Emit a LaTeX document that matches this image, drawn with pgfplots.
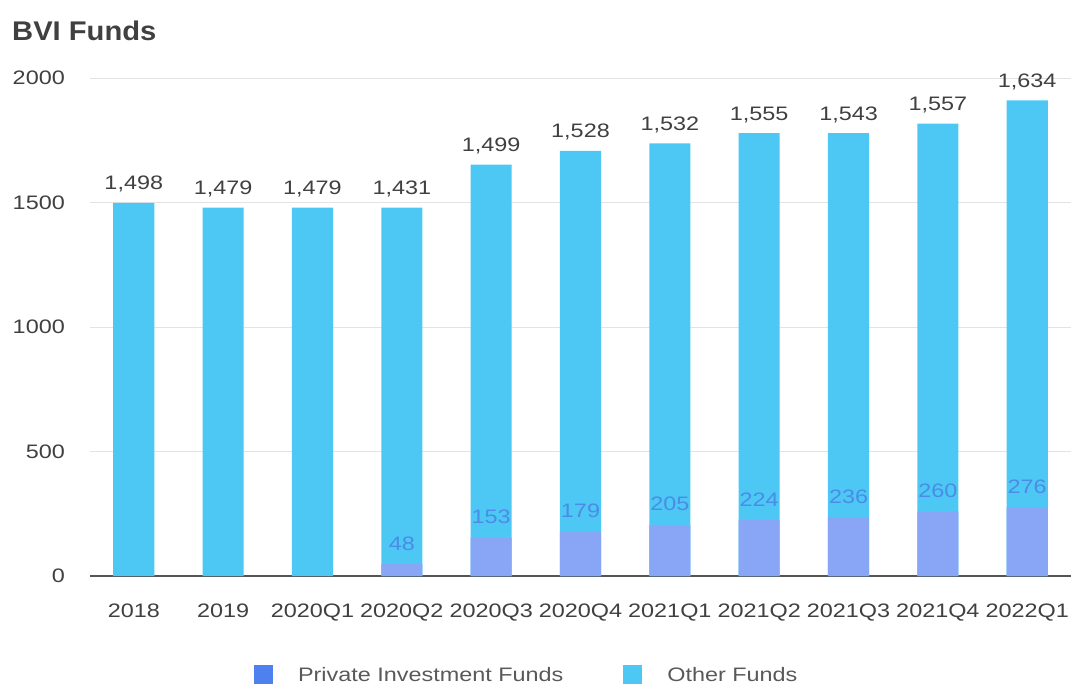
\documentclass[border=0pt]{standalone}
\usepackage{pgfplots}
\usepackage{pgfplotstable}
\pgfplotsset{compat=1.18}
\usepackage{fontspec}
\setmainfont{Liberation Sans}[FakeStretch=1.2]
\newfontfamily\titlefont{Liberation Sans}[FakeStretch=1.08]
\definecolor{otherc}{HTML}{4DC8F5}
\definecolor{privc}{HTML}{89A5F6}
\definecolor{privleg}{HTML}{4F80F0}
\definecolor{privtxt}{HTML}{4A8CE6}
\definecolor{txt}{HTML}{404040}
\definecolor{legtxt}{HTML}{595959}
\definecolor{gridc}{HTML}{E3E3E3}
\definecolor{axc}{HTML}{555555}

\pgfplotstableread{
x priv other
0 0 1498
1 0 1479
2 0 1479
3 48 1431
4 153 1499
5 179 1528
6 205 1532
7 224 1555
8 236 1543
9 260 1557
10 276 1634
}\fundsdata

\pgfplotstableread{
x priv
3 48
4 153
5 179
6 205
7 224
8 236
9 260
10 276
}\privdata

\begin{document}
\begin{tikzpicture}
\begin{axis}[
  scale only axis,
  width=981pt, height=498pt,
  xmin=-0.49, xmax=10.49,
  ymin=0, ymax=2000,
  ybar,
  bar width=0.46,
  clip=false,
  /pgf/number format/assume math mode=true,
  axis x line*=bottom,
  axis y line*=left,
  y axis line style={draw=none},
  x axis line style={-, draw=axc, line width=1.4pt},
  major tick length=0pt,
  xtick={0,...,10},
  xticklabels={2018,2019,2020Q1,2020Q2,2020Q3,2020Q4,2021Q1,2021Q2,2021Q3,2021Q4,2022Q1},
  ytick={0,500,1000,1500,2000},
  yticklabels={0,500,1000,1500,2000},
  ymajorgrids,
  grid style={draw=gridc, line width=1pt},
  xticklabel style={font=\fontsize{19.5}{22}\selectfont, text=txt, anchor=north, inner sep=0pt, yshift=-28pt},
  yticklabel style={font=\fontsize{19.5}{22}\selectfont, text=txt, anchor=east, inner sep=0pt, xshift=-25pt},
  legend image code/.code={\fill[#1, draw=none] (0pt,-9pt) rectangle (19pt,10pt);},
  legend columns=2,
  legend style={draw=none, fill=none, inner sep=0pt, outer sep=0pt,
    at={(0.1672,-0.198)}, anchor=west,
    nodes={inner sep=0pt, text=legtxt, font=\fontsize{19.5}{22}\selectfont},
    /tikz/every odd column/.append style={column sep=25pt},
    /tikz/every even column/.append style={column sep=60pt}},
]
\addplot[forget plot, fill=otherc, draw=none, bar shift=0pt,
  point meta=explicit,
  nodes near coords={\pgfmathprintnumber[fixed,precision=0,1000 sep={,}]{\pgfplotspointmeta}},
  every node near coord/.style={font=\fontsize{19.5}{22}\selectfont, text=txt, anchor=base, inner sep=0pt, yshift=13pt}]
  table[x=x, y expr=\thisrow{priv}+\thisrow{other}, meta=other]{\fundsdata};
\addplot[forget plot, fill=privc, draw=none, bar shift=0pt,
  point meta=explicit,
  nodes near coords={\pgfmathprintnumber[fixed,precision=0]{\pgfplotspointmeta}},
  every node near coord/.style={font=\fontsize{19.5}{22}\selectfont, text=privtxt, anchor=base, inner sep=0pt, yshift=14pt}]
  table[x=x, y=priv, meta=priv]{\privdata};
\addlegendimage{fill=privleg, draw=none}
\addlegendentry{Private Investment Funds}
\addlegendimage{fill=otherc, draw=none}
\addlegendentry{Other Funds}
\end{axis}
\node[anchor=base west, inner sep=0pt, text=txt] at (-78pt,535pt) {\titlefont\fontsize{27}{30}\selectfont\bfseries BVI Funds};
\pgfresetboundingbox
\useasboundingbox (-90pt,-113pt) rectangle (981pt,576pt);
\end{tikzpicture}
\end{document}
